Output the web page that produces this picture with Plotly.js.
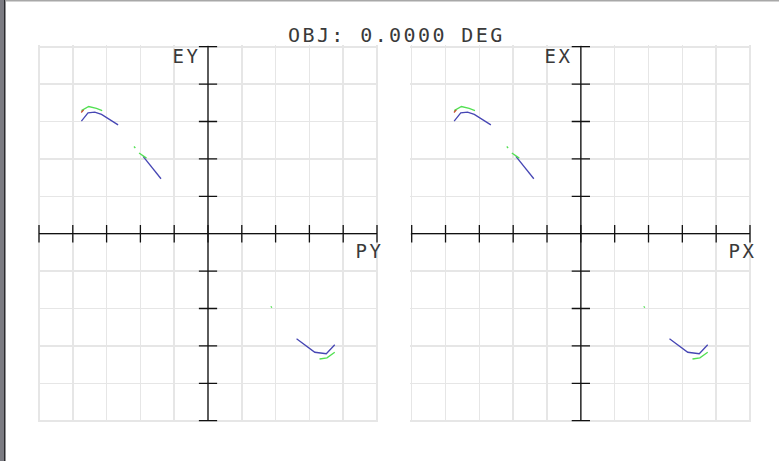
<!DOCTYPE html>
<html>
<head>
<meta charset="utf-8">
<script src="https://cdn.plot.ly/plotly-3.0.1.min.js"></script>
<style>
  html, body { margin: 0; padding: 0; background: #fff; }
  #chart { width: 779px; height: 461px; }
  #chart svg text { letter-spacing: 2.4px; }
</style>
</head>
<body>
<div id="chart"></div>
<script>
// ---- data (plot units = one grid division) ----
const titleText = "OBJ: 0.0000 DEG";
const leftLabels = ["EY", "PY"];
const rightLabels = ["EX", "PX"];
const tickValues = [-5, -4, -3, -2, -1, 0, 1, 2, 3, 4, 5];

// blue wavelength (segments separated by null)
const blueP = [-3.745, -3.55, -3.35, -3.15, -2.66, null,
               -1.92, -1.39, null,
               2.62, 3.06, 3.16, 3.50, 3.75];
const blueE = [3.01, 3.23, 3.25, 3.19, 2.91, null,
               2.07, 1.47, null,
               -2.81, -3.10, -3.17, -3.21, -2.97];

// green wavelength
const greenP = [-3.745, -3.53, -3.30, -3.13, null,
                -2.19, -2.15, null,
                -2.04, -1.82, null,
                1.86, 1.89, null,
                3.30, 3.52, 3.75];
const greenE = [3.29, 3.40, 3.35, 3.29, null,
                2.33, 2.29, null,
                2.16, 2.02, null,
                -1.94, -1.98, null,
                -3.35, -3.32, -3.17];

// red wavelength (only a tiny piece visible)
const redP = [-3.75, -3.68];
const redE = [3.24, 3.31];

// ---- geometry (pixels) ----
const W = 779, H = 461;
const pad = 0.04;
const panels = [
  { x0: 39, x1: 377 },
  { x0: 411.7, x1: 750 }
];
const yTop = 46.7, yBot = 420.7;

function xDomain(p) {
  const u = (p.x1 - p.x0) / 10;
  return [(p.x0 - pad * u) / W, (p.x1 + pad * u) / W];
}
const uy = (yBot - yTop) / 10;
const yDomain = [1 - (yBot + pad * uy) / H, 1 - (yTop - pad * uy) / H];

const tickHalfX = 0.27;   // horizontal ticks on the vertical axis (x units)
const tickHalfY = 0.233;  // vertical ticks on the horizontal axis (y units)

function crossAxes(xa, ya) {
  const x = [-5, 5, null, 0, 0, null];
  const y = [0, 0, null, -5, 5, null];
  tickValues.forEach(t => {
    x.push(t, t, null); y.push(-tickHalfY, tickHalfY, null);
    if (t !== 0) { x.push(-tickHalfX, tickHalfX, null); y.push(t, t, null); }
  });
  return { x, y, xaxis: xa, yaxis: ya, mode: 'lines', hoverinfo: 'skip',
           line: { color: '#111', width: 1.3 }, showlegend: false };
}

function series(xa, ya) {
  return [
    { x: blueP, y: blueE, xaxis: xa, yaxis: ya, mode: 'lines',
      line: { color: '#4646b4', width: 1.3 }, showlegend: false },
    { x: greenP, y: greenE, xaxis: xa, yaxis: ya, mode: 'lines',
      line: { color: '#52e052', width: 1.3 }, showlegend: false },
    { x: redP, y: redE, xaxis: xa, yaxis: ya, mode: 'lines',
      line: { color: '#c84a2a', width: 1.3 }, showlegend: false }
  ];
}

const data = [
  crossAxes('x', 'y'), ...series('x', 'y'),
  crossAxes('x2', 'y2'), ...series('x2', 'y2')
];

function axis(domain, anchor) {
  return {
    domain: domain, anchor: anchor, range: [-5 - pad, 5 + pad],
    tickvals: tickValues, showticklabels: false, ticks: '',
    showgrid: true, gridcolor: '#e6e6e6', gridwidth: 1.6,
    zeroline: false, showline: false, fixedrange: true
  };
}

const labelFont = { family: 'DejaVu Sans Mono', size: 19, color: '#3a3a3a' };

const layout = {
  width: W, height: H,
  margin: { l: 0, r: 0, t: 0, b: 0 },
  paper_bgcolor: '#fff', plot_bgcolor: '#fff',
  showlegend: false,
  xaxis: axis(xDomain(panels[0]), 'y'),
  yaxis: axis(yDomain, 'x'),
  xaxis2: axis(xDomain(panels[1]), 'y2'),
  yaxis2: axis(yDomain, 'x2'),
  annotations: [
    { text: titleText, xref: 'paper', yref: 'paper', x: 396 / W, y: 1 - 35 / H,
      xanchor: 'center', yanchor: 'middle', showarrow: false,
      font: { family: 'DejaVu Sans Mono', size: 20, color: '#3a3a3a' } },
    { text: leftLabels[0], xref: 'x', yref: 'y', x: -0.64, y: 4.76,
      xanchor: 'center', yanchor: 'middle', showarrow: false, font: labelFont },
    { text: leftLabels[1], xref: 'x', yref: 'y', x: 4.78, y: -0.47,
      xanchor: 'center', yanchor: 'middle', showarrow: false, font: labelFont },
    { text: rightLabels[0], xref: 'x2', yref: 'y2', x: -0.65, y: 4.76,
      xanchor: 'center', yanchor: 'middle', showarrow: false, font: labelFont },
    { text: rightLabels[1], xref: 'x2', yref: 'y2', x: 4.77, y: -0.47,
      xanchor: 'center', yanchor: 'middle', showarrow: false, font: labelFont }
  ],
  shapes: [
    { type: 'rect', xref: 'paper', yref: 'paper', x0: 0, x1: 4 / W, y0: 0, y1: 1,
      fillcolor: '#7b7b82', line: { width: 0 }, layer: 'above' },
    { type: 'rect', xref: 'paper', yref: 'paper', x0: 4 / W, x1: 5.5 / W, y0: 0, y1: 1,
      fillcolor: '#2a2a2e', line: { width: 0 }, layer: 'above' },
    { type: 'rect', xref: 'paper', yref: 'paper', x0: 5.5 / W, x1: 1, y0: 1 - 1.5 / H, y1: 1,
      fillcolor: '#a8a8a8', line: { width: 0 }, layer: 'above' }
  ]
};

Plotly.newPlot('chart', data, layout, { displayModeBar: false, staticPlot: true });
</script>
</body>
</html>
